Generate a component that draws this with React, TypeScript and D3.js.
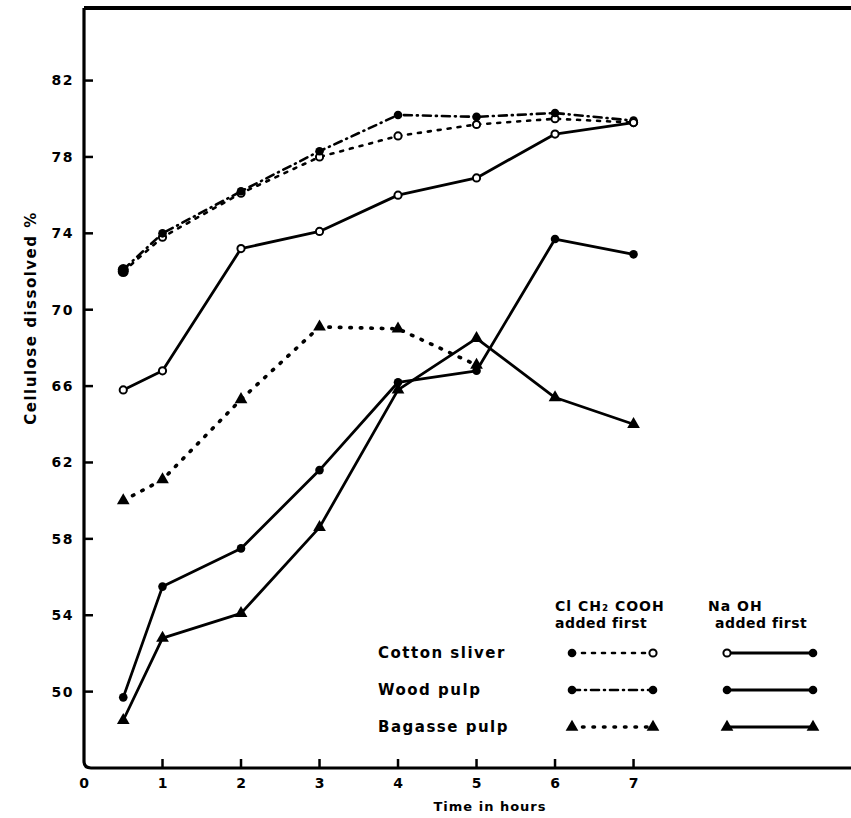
import React from 'react';
import * as d3 from 'd3';

// time points (hours)
const hours = [0.5, 1, 2, 3, 4, 5, 6, 7];

// ClCH2COOH added first
const cottonAcidFirst = [72.0, 73.8, 76.1, 78.0, 79.1, 79.7, 80.0, 79.8];
const woodAcidFirst = [72.1, 74.0, 76.2, 78.3, 80.2, 80.1, 80.3, 79.9];
const bagasseAcidFirst = [60.0, 61.1, 65.3, 69.1, 69.0, 67.1];

// NaOH added first
const cottonAlkaliFirst = [65.8, 66.8, 73.2, 74.1, 76.0, 76.9, 79.2, 79.8];
const woodAlkaliFirst = [49.7, 55.5, 57.5, 61.6, 66.2, 66.8, 73.7, 72.9];
const bagasseAlkaliFirst = [48.5, 52.8, 54.1, 58.6, 65.8, 68.5, 65.4, 64.0];

const yTicks = [50, 54, 58, 62, 66, 70, 74, 78, 82];
const xTicks = [0, 1, 2, 3, 4, 5, 6, 7];
const legendRows = ['Cotton sliver', 'Wood pulp', 'Bagasse pulp'];

const W = 851;
const H = 818;
const font = '"DejaVu Sans", sans-serif';

export default function App() {
  const x = d3.scaleLinear().domain([0, 9.77]).range([84, 851]);
  const y = d3.scaleLinear().domain([46, 85.8]).range([768, 8]);

  const line = d3
    .line<number>()
    .x((_, i) => x(hours[i]))
    .y((d) => y(d));

  const series = [
    { values: cottonAcidFirst, dash: '3 7', width: 2.6, marker: 'open' },
    { values: woodAcidFirst, dash: '8 5 1 5', width: 2.6, marker: 'filled' },
    { values: bagasseAcidFirst, dash: '1.5 9', width: 3.6, marker: 'tri' },
    { values: cottonAlkaliFirst, dash: null, width: 2.8, marker: 'open' },
    { values: woodAlkaliFirst, dash: null, width: 2.8, marker: 'filled' },
    { values: bagasseAlkaliFirst, dash: null, width: 2.8, marker: 'tri' },
  ];

  const tri = d3.symbol().type(d3.symbolTriangle).size(70);

  const drawMarker = (kind: string, cx: number, cy: number, key: string, first = false) => {
    if (kind === 'tri') {
      return <path key={key} d={tri() || ''} transform={`translate(${cx},${cy})`} fill="#000" />;
    }
    if (kind === 'open' && !first) {
      return <circle key={key} cx={cx} cy={cy} r={3.6} fill="#fff" stroke="#000" strokeWidth={2} />;
    }
    return <circle key={key} cx={cx} cy={cy} r={first ? 5.5 : 4.3} fill="#000" />;
  };

  const legendY = (i: number) => 653 + i * 37;
  const legendMarkers = [
    ['filled', 'open', 'open', 'filled'],
    ['filled', 'filled', 'filled', 'filled'],
    ['tri', 'tri', 'tri', 'tri'],
  ];

  return (
    <svg width={W} height={H} style={{ display: 'block', position: 'absolute', left: 0, top: 0 }}>
      <rect width={W} height={H} fill="#fff" />
      {/* frame */}
      <path d={`M${x(0)},${y(85.8)} L${W},${y(85.8)}`} stroke="#000" strokeWidth={4} fill="none" />
      <path
        d={`M${x(0)},${y(85.8)} L${x(0)},${y(46) - 7} Q${x(0)},${y(46)} ${x(0) + 7},${y(46)} L${W},${y(46)}`}
        stroke="#000"
        strokeWidth={3.2}
        fill="none"
      />
      {yTicks.map((t) => (
        <g key={`yt${t}`}>
          <line x1={x(0)} x2={x(0) + 9} y1={y(t)} y2={y(t)} stroke="#000" strokeWidth={2.5} />
          <text
            x={x(0) - 10}
            y={y(t)}
            dy="0.35em"
            textAnchor="end"
            fontFamily={font}
            fontWeight="bold"
            fontSize={14}
            letterSpacing={1.5}
          >
            {t}
          </text>
        </g>
      ))}
      {xTicks.map((t) => (
        <g key={`xt${t}`}>
          {t > 0 && <line x1={x(t)} x2={x(t)} y1={y(46)} y2={y(46) - 9} stroke="#000" strokeWidth={2.5} />}
          <text x={x(t)} y={788} textAnchor="middle" fontFamily={font} fontWeight="bold" fontSize={14}>
            {t}
          </text>
        </g>
      ))}
      <text x={490} y={811} textAnchor="middle" fontFamily={font} fontWeight="bold" fontSize={13} letterSpacing={1}>
        Time in hours
      </text>
      <text
        transform="translate(36,318) rotate(-90)"
        textAnchor="middle"
        fontFamily={font}
        fontWeight="bold"
        fontSize={15}
        letterSpacing={1.5}
      >
        Cellulose dissolved %
      </text>

      {series.map((s, si) => (
        <g key={`s${si}`}>
          <path
            d={line(s.values) || ''}
            fill="none"
            stroke="#000"
            strokeWidth={s.width}
            strokeDasharray={s.dash || undefined}
            strokeLinecap={s.dash ? 'round' : 'butt'}
            strokeLinejoin="round"
          />
          {s.values.map((v, i) =>
            drawMarker(s.marker, x(hours[i]), y(v), `m${si}-${i}`, si < 2 && i === 0)
          )}
        </g>
      ))}

      {/* legend */}
      <text x={555} y={611} fontFamily={font} fontWeight="bold" fontSize={14} letterSpacing={1}>
        Cl CH₂ COOH
      </text>
      <text x={555} y={628} fontFamily={font} fontWeight="bold" fontSize={14} letterSpacing={0.5}>
        added first
      </text>
      <text x={708} y={611} fontFamily={font} fontWeight="bold" fontSize={14} letterSpacing={1}>
        Na OH
      </text>
      <text x={715} y={628} fontFamily={font} fontWeight="bold" fontSize={14} letterSpacing={0.5}>
        added first
      </text>
      {legendRows.map((name, i) => (
        <g key={name}>
          <text
            x={378}
            y={legendY(i)}
            dy="0.35em"
            fontFamily={font}
            fontWeight="bold"
            fontSize={15}
            letterSpacing={1.5}
          >
            {name}
          </text>
          <line
            x1={572}
            x2={653}
            y1={legendY(i)}
            y2={legendY(i)}
            stroke="#000"
            strokeWidth={series[i].width}
            strokeDasharray={series[i].dash || undefined}
            strokeLinecap="round"
          />
          <line x1={727} x2={813} y1={legendY(i)} y2={legendY(i)} stroke="#000" strokeWidth={2.8} />
          {drawMarker(legendMarkers[i][0], 572, legendY(i), `lm${i}a`)}
          {drawMarker(legendMarkers[i][1], 653, legendY(i), `lm${i}b`)}
          {drawMarker(legendMarkers[i][2], 727, legendY(i), `lm${i}c`)}
          {drawMarker(legendMarkers[i][3], 813, legendY(i), `lm${i}d`)}
        </g>
      ))}
    </svg>
  );
}
